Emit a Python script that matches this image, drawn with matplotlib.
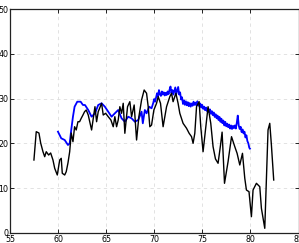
import matplotlib
matplotlib.use("Agg")
import matplotlib.pyplot as plt

# Black series (x, y)
black_x = [57.47, 57.71, 57.99, 58.17, 58.41, 58.59, 58.75, 59.00, 59.21, 59.45,
           59.63, 59.90, 60.15, 60.31, 60.42, 60.67, 60.83, 61.01, 61.19, 61.35,
           61.53, 61.70, 61.87, 62.05, 62.22, 62.39, 62.57, 62.74, 62.91, 63.12,
           63.47, 63.82, 63.99, 64.16, 64.51, 64.68, 64.93, 65.20, 65.48, 65.72,
           65.89, 66.07, 66.24, 66.41, 66.59, 66.76, 66.93, 67.21, 67.45, 67.63,
           67.90, 68.15, 68.39, 68.67, 68.94, 69.19, 69.36, 69.53, 69.71, 69.95,
           70.23, 70.40, 70.64, 70.91, 71.09, 71.27, 71.61, 71.79, 71.95, 72.24,
           72.47, 72.65, 72.99, 73.35, 73.62, 73.87, 74.03, 74.21, 74.39, 74.66,
           74.83, 75.07, 75.32, 75.59, 75.87, 76.11, 76.36, 76.63, 76.88, 77.05,
           77.30, 77.67, 78.03, 78.37, 78.61, 78.89, 79.17, 79.41, 79.58, 79.85,
           80.10, 80.27, 80.62, 80.97, 81.14, 81.49, 81.83, 82.01, 82.18, 82.42]
black_y = [16.26, 22.60, 22.30, 20.07, 18.12, 17.00, 18.12, 17.38, 17.83, 16.26,
           14.41, 12.91, 16.26, 16.64, 13.29, 12.91, 13.65, 15.59, 18.12, 22.30,
           20.36, 23.71, 22.98, 24.83, 24.83, 25.59, 26.33, 27.07, 27.45, 26.33,
           22.98, 28.19, 24.83, 27.07, 28.95, 26.33, 26.71, 25.95, 25.21, 23.71,
           25.95, 23.71, 25.21, 28.19, 26.71, 28.95, 22.24, 28.19, 29.31, 25.95,
           28.57, 20.74, 25.95, 29.69, 31.92, 31.19, 28.19, 23.71, 24.09, 27.45,
           28.95, 30.43, 28.95, 23.71, 25.95, 28.19, 30.43, 31.19, 29.31, 31.19,
           28.95, 26.71, 24.47, 23.36, 22.24, 21.48, 20.00, 22.24, 28.19, 29.31,
           23.71, 18.12, 22.98, 28.19, 24.47, 19.24, 16.50, 15.53, 19.50, 22.50,
           11.05, 15.88, 21.48, 19.24, 17.76, 15.15, 17.76, 12.17, 9.55, 9.17,
           3.58, 9.55, 11.05, 10.29, 5.46, 0.98, 22.98, 24.47, 19.62, 11.79]

# Blue series (x, y)
blue_x = [59.97, 60.31, 60.67, 61.01, 61.19, 61.35, 61.53, 61.70, 61.98, 62.33,
          62.57, 62.78, 63.12, 63.47, 63.82, 64.16, 64.51, 64.85, 65.20, 65.55,
          65.89, 66.24, 66.59, 66.93, 67.28, 67.63, 67.97, 68.32, 68.67, 68.80,
          69.01, 69.19, 69.46, 69.71,
          69.88, 69.98, 70.08, 70.18, 70.28, 70.38, 70.48, 70.58, 70.68, 70.78,
          70.88, 70.98, 71.08, 71.18, 71.28, 71.38, 71.48, 71.58, 71.68, 71.78,
          71.88, 71.98, 72.08, 72.18, 72.28, 72.38, 72.48, 72.58, 72.68, 72.78,
          72.88, 72.98, 73.08, 73.18, 73.28, 73.38, 73.48, 73.58, 73.68, 73.78,
          73.88, 73.98, 74.08, 74.18, 74.28, 74.38, 74.48, 74.58, 74.68, 74.78,
          74.88, 74.98, 75.08, 75.18, 75.28, 75.38, 75.48, 75.58, 75.68, 75.78,
          75.88, 75.98, 76.08, 76.18, 76.28, 76.38, 76.48, 76.58, 76.68, 76.78,
          76.88, 76.98, 77.08, 77.18, 77.28, 77.38, 77.48, 77.58, 77.68, 77.78,
          77.88, 77.98, 78.08, 78.18, 78.28, 78.38, 78.48, 78.58, 78.68, 78.78,
          78.88, 78.98, 79.08, 79.18, 79.28, 79.38, 79.48, 79.58, 79.68, 79.78,
          79.88, 79.95]
blue_y = [22.60, 21.12, 20.74, 19.62, 20.00, 22.98, 25.95, 28.19, 29.31, 29.31,
          28.57, 28.57, 27.45, 25.95, 26.71, 28.57, 28.95, 28.19, 27.07, 25.95,
          26.71, 27.45, 25.59, 24.83, 25.95, 25.59, 24.83, 25.21, 27.07, 24.47,
          27.45, 26.71, 28.19, 27.83,
          29.0, 29.9, 29.3, 30.3, 31.2, 30.4, 31.9, 31.0, 30.6, 31.6,
          30.9, 31.4, 30.7, 31.3, 30.8, 31.6, 31.0, 32.0, 32.7, 31.2,
          31.9, 30.9, 31.7, 32.5, 31.0, 31.8, 32.6, 30.9, 31.4, 29.8,
          30.3, 28.8, 29.6, 28.6, 29.4, 28.5, 29.2, 28.3, 29.0, 28.2,
          28.9, 28.4, 29.3, 28.6, 29.1, 28.5, 29.4, 28.7, 28.3, 28.9,
          28.0, 28.6, 27.7, 28.2, 27.4, 28.0, 27.2, 27.8, 27.0, 27.6,
          26.6, 27.2, 26.3, 26.9, 25.9, 26.5, 25.6, 26.2, 25.2, 25.9,
          24.8, 25.5, 24.5, 25.1, 24.0, 24.8, 23.8, 24.4, 23.6, 24.2,
          23.3, 24.0, 23.2, 23.9, 23.4, 24.0, 23.3, 24.6, 26.2, 24.0,
          23.2, 23.7, 22.5, 23.1, 22.2, 22.6, 21.3, 21.8, 20.5, 20.0,
          19.0, 18.8]

x_ticks = [55, 60, 65, 70, 75, 80, 85]
y_ticks = [0, 10, 20, 30, 40, 50]

fig = plt.figure(figsize=(2.99, 2.43), dpi=100)
ax = fig.add_axes([10.2 / 299, 10.3 / 243, 288.3 / 299, 223.5 / 243])

ax.plot(black_x, black_y, color="black", lw=1.0, zorder=3)
ax.plot(blue_x, blue_y, color="blue", lw=1.3, zorder=2)

ax.set_xlim(55, 85)
ax.set_ylim(0, 50)
ax.set_xticks(x_ticks)
ax.set_yticks(y_ticks)
ax.tick_params(direction="in", length=3, width=0.6, top=True, right=True,
               labelsize=5.7, pad=1.5, colors="black")
ax.grid(True, color="#dddddd", linestyle=(0, (4, 4)), lw=0.6)
ax.set_axisbelow(True)
for s in ax.spines.values():
    s.set_linewidth(0.9)
    s.set_color("#222222")

fig.savefig("out.png", dpi=100)
